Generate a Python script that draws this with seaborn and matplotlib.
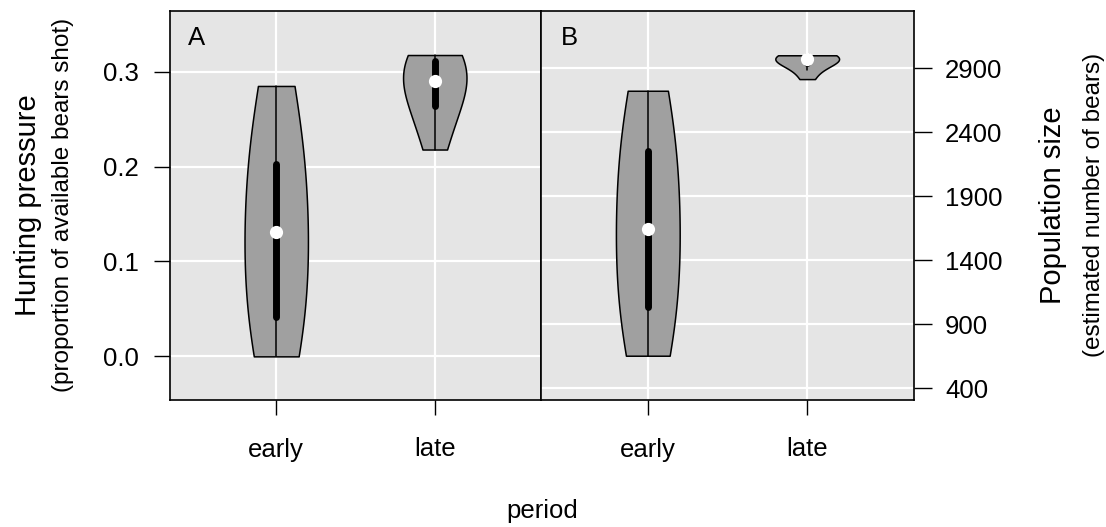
import numpy as np
import pandas as pd
import matplotlib
matplotlib.use("Agg")
import matplotlib.pyplot as plt
import seaborn as sns

# ---- data ----
periods = ["early", "late"]

# hunting pressure (proportion of available bears shot)
pressure_early = [0.0, 0.012, 0.028, 0.042, 0.075, 0.105, 0.131, 0.155, 0.18, 0.203, 0.235, 0.262, 0.285]
pressure_late = [0.218, 0.245, 0.264, 0.278, 0.290, 0.302, 0.311, 0.315, 0.3176]

# population size (estimated number of bears)
pop_early = [655, 780, 900, 1037, 1230, 1440, 1642, 1850, 2050, 2256, 2420, 2580, 2725]
pop_late = [2816, 2890, 2940, 2960, 2973, 2985, 2993, 2998, 3002]

pressure_ticks = [0.0, 0.1, 0.2, 0.3]
pop_ticks = [400, 900, 1400, 1900, 2400, 2900]

df_a = pd.DataFrame({
    "period": ["early"] * len(pressure_early) + ["late"] * len(pressure_late),
    "value": pressure_early + pressure_late,
})
df_b = pd.DataFrame({
    "period": ["early"] * len(pop_early) + ["late"] * len(pop_late),
    "value": pop_early + pop_late,
})

sns.set_style("white")
plt.rcParams["font.family"] = ["Liberation Sans", "DejaVu Sans"]
plt.rcParams.update({"text.color": "black", "xtick.color": "black",
                     "ytick.color": "black", "axes.labelcolor": "black"})

fig = plt.figure(figsize=(11.06, 5.27), dpi=100)
ax_a = fig.add_axes([170 / 1106, 1 - 400 / 527, 371 / 1106, 389 / 527])
ax_b = fig.add_axes([541 / 1106, 1 - 400 / 527, 373 / 1106, 389 / 527])

violin_kws = dict(x="period", y="value", order=periods, color="#a0a0a0",
                  linecolor="black", linewidth=1.1, cut=0, density_norm="width",
                  width=0.40, bw_adjust=1.5, inner="box",
                  inner_kws=dict(box_width=5, whis_width=1.1, marker="o"))

for ax, df in [(ax_a, df_a), (ax_b, df_b)]:
    sns.violinplot(data=df, ax=ax, **violin_kws)
    ax.set_facecolor("#e5e5e5")
    ax.grid(True, color="white", linewidth=1.6)
    ax.set_axisbelow(True)
    ax.set_xlim(-0.67, 1.67)
    ax.set_xlabel("")
    ax.set_ylabel("")
    for sp in ax.spines.values():
        sp.set_visible(True)
        sp.set_color("black")
        sp.set_linewidth(1.2)
    # white median dots
    for ln in ax.lines:
        if ln.get_marker() == "o":
            ln.set_markersize(9.5)
            ln.set_markeredgewidth(0)
            ln.set_markerfacecolor("white")
            ln.set_zorder(5)

# panel A
ax_a.set_ylim(-0.046, 0.364)
ax_a.set_yticks(pressure_ticks)
ax_a.set_yticklabels([f"{v:.1f}" for v in pressure_ticks])
ax_a.tick_params(axis="y", left=True, length=11.5, width=1.0, pad=11, labelsize=18.5)
ax_a.text(0.048, 0.913, "A", transform=ax_a.transAxes, fontsize=18.5, va="baseline")

# panel B
ax_b.set_ylim(309, 3348)
ax_b.set_yticks(pop_ticks)
ax_b.yaxis.tick_right()
ax_b.tick_params(axis="y", right=True, left=False, length=13, width=1.0, pad=9.5, labelsize=18.5)
ax_b.text(0.054, 0.913, "B", transform=ax_b.transAxes, fontsize=18.5, va="baseline")

for ax in [ax_a, ax_b]:
    ax.tick_params(axis="x", bottom=True, length=11, width=1.0, pad=16, labelsize=18.5)

# axis titles
fig.text(0.0253, 0.611, "Hunting pressure", rotation=90, ha="center", va="center", fontsize=21)
fig.text(0.057, 0.611, "(proportion of available bears shot)", rotation=90,
         ha="center", va="center", fontsize=17.5)
fig.text(0.952, 0.611, "Population size", rotation=90, ha="center", va="center", fontsize=21)
fig.text(0.989, 0.611, "(estimated number of bears)", rotation=90,
         ha="center", va="center", fontsize=17.5)
fig.text(0.49, 0.030, "period", ha="center", va="center", fontsize=18.5)

fig.savefig("out.png", dpi=100)
